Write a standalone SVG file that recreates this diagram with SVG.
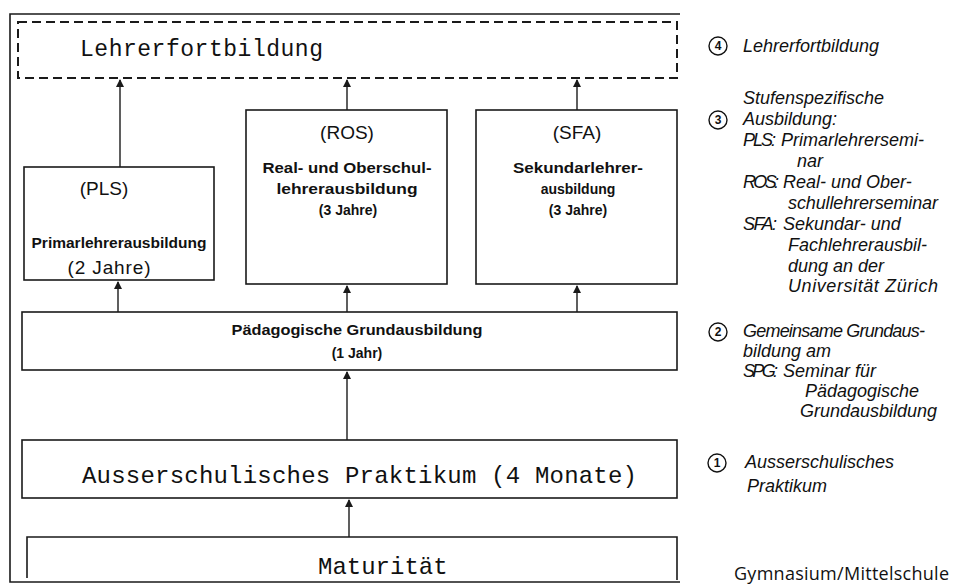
<svg xmlns="http://www.w3.org/2000/svg" width="953" height="586" viewBox="0 0 953 586">
<style>
.box{fill:none;stroke:#1a1a1a;stroke-width:1.6}
.dash{fill:none;stroke:#1a1a1a;stroke-width:2;stroke-dasharray:9 5}
.con{fill:none;stroke:#1a1a1a;stroke-width:1.4;marker-end:url(#ah)}
.mono{font-family:"Liberation Mono","Courier New",monospace;fill:#111}
.sans{font-family:"Liberation Sans",Arial,sans-serif;fill:#111;text-anchor:middle}
.b{font-weight:bold}
.leg{font-family:"Liberation Sans",Arial,sans-serif;font-style:italic;font-size:18px;fill:#111}
.num{font-family:"Liberation Sans",Arial,sans-serif;font-size:12px;font-weight:bold;fill:#111;text-anchor:middle}
.circ{fill:none;stroke:#111;stroke-width:1.4}
</style>
<defs>
<marker id="ah" markerWidth="8" markerHeight="10" refX="7" refY="4" orient="auto" markerUnits="userSpaceOnUse" viewBox="0 0 8 8">
<path d="M0,0 L8,4 L0,8 z" fill="#1a1a1a"/>
</marker>
</defs>
<rect width="953" height="586" fill="#fff"/>
<g id="frame"><polyline class="box" points="680,14 10,14 10,582 680,582"/></g>

<g id="n4">
<rect class="dash" x="18" y="22" width="659" height="56"/>
<text class="mono" x="80" y="56" font-size="23" textLength="243">Lehrerfortbildung</text>
</g>
<g id="pls">
<rect class="box" x="24" y="167" width="190" height="113"/>
<text class="sans" x="104" y="195" font-size="19">(PLS)</text>
<text class="sans b" x="119" y="248" font-size="14" textLength="175" lengthAdjust="spacingAndGlyphs">Primarlehrerausbildung</text>
<text class="sans" x="109" y="274" font-size="19" textLength="83">(2 Jahre)</text>
</g>
<g id="ros">
<rect class="box" x="246" y="110" width="201" height="174"/>
<text class="sans" x="347" y="139" font-size="19">(ROS)</text>
<text class="sans b" x="347" y="173" font-size="14" textLength="169" lengthAdjust="spacingAndGlyphs">Real- und Oberschul-</text>
<text class="sans b" x="347" y="194" font-size="14" textLength="141" lengthAdjust="spacingAndGlyphs">lehrerausbildung</text>
<text class="sans b" x="348" y="215" font-size="14">(3 Jahre)</text>
</g>
<g id="sfa">
<rect class="box" x="476" y="110" width="201" height="174"/>
<text class="sans" x="577" y="139" font-size="19">(SFA)</text>
<text class="sans b" x="578" y="173" font-size="14" textLength="130" lengthAdjust="spacingAndGlyphs">Sekundarlehrer-</text>
<text class="sans b" x="578" y="194" font-size="14">ausbildung</text>
<text class="sans b" x="578" y="215" font-size="14">(3 Jahre)</text>
</g>
<g id="pga">
<rect class="box" x="22" y="312" width="655" height="58"/>
<text class="sans b" x="357" y="335" font-size="14" textLength="251" lengthAdjust="spacingAndGlyphs">Pädagogische Grundausbildung</text>
<text class="sans b" x="357" y="358" font-size="14">(1 Jahr)</text>
</g>
<g id="asp">
<rect class="box" x="22" y="440" width="655" height="58"/>
<text class="mono" x="82" y="483" font-size="24" textLength="555">Ausserschulisches Praktikum (4 Monate)</text>
</g>
<g id="mat">
<polyline class="box" points="27,578 27,537 677,537 677,580"/>
<text class="mono" x="318" y="574" font-size="24">Maturität</text>
</g>

<g id="connectors">
<line class="con" x1="120" y1="167" x2="120" y2="80"/>
<line class="con" x1="347" y1="110" x2="347" y2="80"/>
<line class="con" x1="577" y1="110" x2="577" y2="80"/>
<line class="con" x1="118" y1="312" x2="118" y2="282"/>
<line class="con" x1="347" y1="312" x2="347" y2="286"/>
<line class="con" x1="577" y1="312" x2="577" y2="286"/>
<line class="con" x1="347" y1="440" x2="347" y2="372"/>
<line class="con" x1="349" y1="537" x2="349" y2="500"/>
</g>

<g id="legend">
<circle class="circ" cx="718" cy="46" r="9"/><text class="num" x="718" y="50">4</text>
<text class="leg" x="743" y="52">Lehrerfortbildung</text>
<text class="leg" x="743" y="104">Stufenspezifische</text>
<circle class="circ" cx="718" cy="120" r="9"/><text class="num" x="718" y="124">3</text>
<text class="leg" x="743" y="125">Ausbildung:</text>
<text class="leg" x="743" y="146" textLength="33">PLS:</text><text class="leg" x="781" y="146">Primarlehrersemi-</text>
<text class="leg" x="797" y="167">nar</text>
<text class="leg" x="743" y="188" textLength="36">ROS:</text><text class="leg" x="783" y="188">Real- und Ober-</text>
<text class="leg" x="788" y="209" textLength="150">schullehrerseminar</text>
<text class="leg" x="743" y="230" textLength="34">SFA:</text><text class="leg" x="783" y="230">Sekundar- und</text>
<text class="leg" x="788" y="251">Fachlehrerausbil-</text>
<text class="leg" x="788" y="272">dung an der</text>
<text class="leg" x="788" y="292" textLength="150">Universität Zürich</text>
<circle class="circ" cx="718" cy="332" r="9"/><text class="num" x="718" y="336">2</text>
<text class="leg" x="743" y="337" textLength="182">Gemeinsame Grundaus-</text>
<text class="leg" x="743" y="357">bildung am</text>
<text class="leg" x="743" y="377" textLength="35">SPG:</text><text class="leg" x="783" y="377">Seminar für</text>
<text class="leg" x="805" y="397">Pädagogische</text>
<text class="leg" x="800" y="417">Grundausbildung</text>
<circle class="circ" cx="717" cy="463" r="9"/><text class="num" x="717" y="467">1</text>
<text class="leg" x="745" y="468">Ausserschulisches</text>
<text class="leg" x="747" y="492">Praktikum</text>
<text x="734" y="580" font-family="Open Sans, Liberation Sans, sans-serif" font-size="18" fill="#111" textLength="215">Gymnasium/Mittelschule</text>
</g>
</svg>
